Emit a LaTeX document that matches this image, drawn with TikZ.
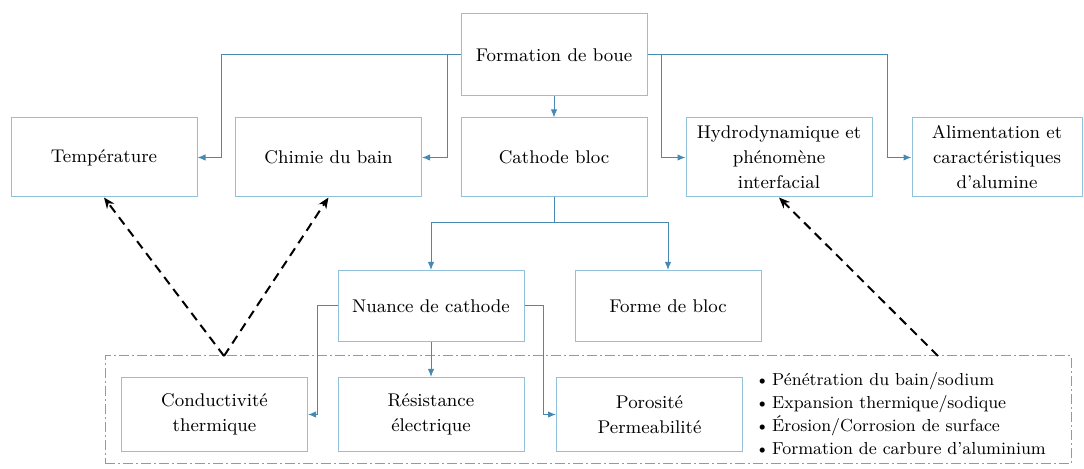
\documentclass[tikz,border=0pt]{standalone}
\usetikzlibrary{arrows.meta}
\definecolor{boxblue}{RGB}{143,193,218}
\definecolor{linkblue}{RGB}{70,138,178}
\definecolor{groupblue}{RGB}{100,168,205}
\newcommand{\bw}{93pt}
\newcommand{\txt}{\fontsize{9.2}{12.5}\selectfont}

\begin{document}
\begin{tikzpicture}[
      x=0.5pt, y=-0.5pt,
      bloc/.style={draw=boxblue, line width=0.5pt, minimum width=\bw, align=center, font=\txt},
      link/.style={draw=linkblue, line width=0.5pt, -{Latex[length=4pt,width=3.2pt]}},
      plain/.style={draw=linkblue, line width=0.5pt},
      influence/.style={black, line width=1pt, dash pattern=on 4.5pt off 3pt, -{Stealth[length=5.5pt,width=4.5pt]}},
      groupe/.style={draw=groupblue, line width=0.5pt, dash pattern=on 5pt off 1.5pt on 1pt off 1.5pt}
    ]
    \useasboundingbox (0,0) rectangle (1084,469);
    % top of the tree
    \node[bloc, minimum height=41pt] (boue) at (554,55) {Formation de boue};
    % second row
    \node[bloc, minimum height=39.5pt] (temp) at (104,157.5) {Température};
    \node[bloc, minimum height=39.5pt] (chimie) at (328.5,157.5) {Chimie du bain};
    \node[bloc, minimum height=39.5pt] (cathode) at (554,157.5) {Cathode bloc};
    \node[bloc, minimum height=39.5pt] (hydro) at (779,157.5) {Hydrodynamique et\\phénomène\\interfacial};
    \node[bloc, minimum height=39.5pt, minimum width=85pt] (alim) at (997,157.5) {Alimentation et\\caractéristiques\\d'alumine};
    % third row
    \node[bloc, minimum height=35.5pt] (nuance) at (431,306) {Nuance de cathode};
    \node[bloc, minimum height=35.5pt] (forme) at (668,306) {Forme de bloc};
    % group of properties
    \node[groupe, minimum width=483pt, minimum height=54pt] (prop) at (588,410) {};
    \node[bloc, minimum height=37pt] (cond) at (214.5,414.5) {Conductivité\\thermique};
    \node[bloc, minimum height=37pt] (resist) at (431,414.5) {Résistance\\électrique};
    \node[bloc, minimum height=37pt] (poros) at (649.5,414.5) {Porosité\\Permeabilité};
    \node[anchor=west, align=left, inner sep=0pt, font=\fontsize{8.7}{11.5}\selectfont] (effets) at (755,414)
      {\textbullet\,Pénétration du bain/sodium\\
       \textbullet\,Expansion thermique/sodique\\
       \textbullet\,Érosion/Corrosion de surface\\
       \textbullet\,Formation de carbure d'aluminium};
    % links from the top box
    \draw[link] (boue.west) -| (221,157.5) -- (temp.east);
    \draw[link] (447,55) |- (chimie.east);
    \draw[link] (boue) -- (cathode);
    \draw[link] (boue.east) -| (887,157.5) -- (alim.west);
    \draw[link] (661,55) |- (hydro.west);
    % cathode block
    \coordinate (split) at (554,223);
    \draw[plain] (cathode.south) -- (split);
    \draw[link] (split) -| (nuance.north);
    \draw[link] (split) -| (forme.north);
    \draw[link] (nuance.west) -| (317,414.5) -- (cond.east);
    \draw[link] (nuance) -- (resist);
    \draw[link] (nuance.east) -| (543,414.5) -- (poros.west);
    % feedback
    \coordinate (v) at (224,356);
    \coordinate (w) at (938,356);
    \draw[influence] (v) -- (temp.south);
    \draw[influence] (v) -- (chimie.south);
    \draw[influence] (w) -- (hydro.south);
\end{tikzpicture}
\end{document}
